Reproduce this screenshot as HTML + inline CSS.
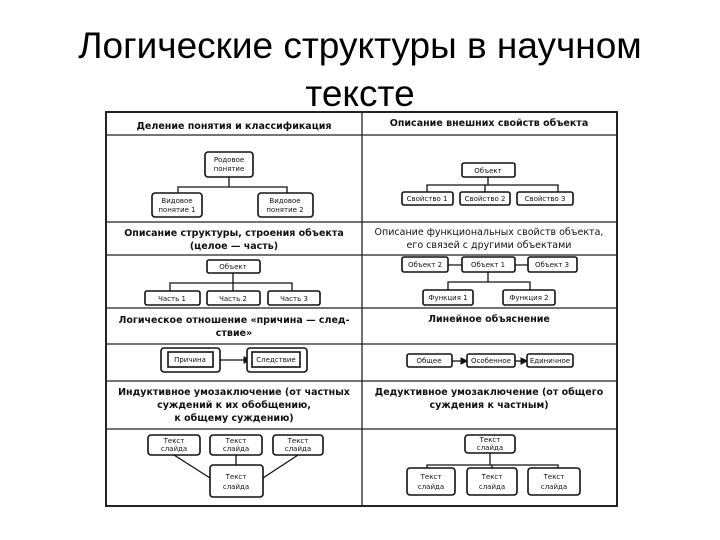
<!DOCTYPE html>
<html><head><meta charset="utf-8"><style>
body{margin:0;background:#fff;width:720px;height:540px;overflow:hidden}
.t{position:absolute;left:0;width:720px;text-align:center;font-family:"Liberation Sans","DejaVu Sans",sans-serif;font-size:37px;color:#000}
svg{position:absolute;left:0;top:0}
svg text{font-family:"DejaVu Sans","Liberation Sans",sans-serif;fill:#111}
.h{font-size:9.5px;font-weight:bold}
.n{font-size:7px}
.b{fill:#fff;stroke:#111;stroke-width:1.6}
.l{stroke:#111;stroke-width:1.3;fill:none}
</style></head><body>
<div class="t" style="top:22px;line-height:48px">Логические структуры в научном<br>тексте</div>
<svg width="720" height="540" viewBox="0 0 720 540">
<defs><marker id="a" markerWidth="6" markerHeight="6" refX="5" refY="3" orient="auto"><path d="M0,0L6,3L0,6z" fill="#111"/></marker></defs>
<rect x="106" y="112" width="511" height="394" fill="none" stroke="#222" stroke-width="2"/>
<g stroke="#222" stroke-width="1.3">
<line x1="362" y1="112" x2="362" y2="506"/>
<line x1="106" y1="135" x2="617" y2="135"/>
<line x1="106" y1="222" x2="617" y2="222"/>
<line x1="106" y1="255" x2="617" y2="255"/>
<line x1="106" y1="308" x2="617" y2="308"/>
<line x1="106" y1="344" x2="617" y2="344"/>
<line x1="106" y1="381" x2="617" y2="381"/>
<line x1="106" y1="429" x2="617" y2="429"/>
</g>
<g text-anchor="middle">
<text class="h" x="234" y="129">Деление понятия и классификация</text>
<text class="h" x="489" y="126">Описание внешних свойств объекта</text>
<text class="h" x="234" y="236">Описание структуры, строения объекта</text>
<text class="h" x="234" y="249">(целое — часть)</text>
<text x="489" y="235" style="font-size:9.5px">Описание функциональных свойств объекта,</text>
<text x="489" y="248" style="font-size:9.5px">его связей с другими объектами</text>
<text class="h" x="234" y="323">Логическое отношение «причина — след-</text>
<text class="h" x="234" y="336">ствие»</text>
<text class="h" x="489" y="322">Линейное объяснение</text>
<text class="h" x="234" y="395">Индуктивное умозаключение (от частных</text>
<text class="h" x="234" y="408">суждений к их обобщению,</text>
<text class="h" x="234" y="421">к общему суждению)</text>
<text class="h" x="489" y="395">Дедуктивное умозаключение (от общего</text>
<text class="h" x="489" y="408">суждения к частным)</text>
</g>
<path class="l" d="M229,177V187M178,193V187H287V193"/>
<path class="l" d="M488,177V185M427,192V185H558V192M485,185V192"/>
<path class="l" d="M233,273V283M170,291V283H292V291M233,283V291"/>
<path class="l" d="M448,265H462M515,265H528M488,272V282M448,290V282H530V290"/>
<line class="l" x1="213" y1="360" x2="250" y2="360" marker-end="url(#a)"/>
<line class="l" x1="452" y1="361" x2="467" y2="361" marker-end="url(#a)"/>
<line class="l" x1="515" y1="361" x2="527" y2="361" marker-end="url(#a)"/>
<path class="l" d="M174,455L210,478M236,455V465M298,455L263,478"/>
<path class="l" d="M490,453V465M427,468V465H558V468M492,465V468"/>
<g>
<rect class="b" x="205" y="152" width="48" height="25" rx="3"/>
<rect class="b" x="152" y="193" width="50" height="24" rx="3"/>
<rect class="b" x="258" y="193" width="55" height="24" rx="3"/>
<rect class="b" x="462" y="163" width="53" height="14" rx="2"/>
<rect class="b" x="402" y="192" width="51" height="13" rx="2"/>
<rect class="b" x="460" y="192" width="50" height="13" rx="2"/>
<rect class="b" x="517" y="192" width="56" height="13" rx="2"/>
<rect class="b" x="207" y="260" width="53" height="13" rx="2"/>
<rect class="b" x="145" y="291" width="55" height="14" rx="2"/>
<rect class="b" x="207" y="291" width="53" height="14" rx="2"/>
<rect class="b" x="268" y="291" width="52" height="14" rx="2"/>
<rect class="b" x="402" y="257" width="46" height="15" rx="2"/>
<rect class="b" x="462" y="257" width="53" height="15" rx="2"/>
<rect class="b" x="528" y="257" width="49" height="15" rx="2"/>
<rect class="b" x="423" y="290" width="50" height="15" rx="2"/>
<rect class="b" x="503" y="290" width="52" height="15" rx="2"/>
<rect class="b" x="161" y="348" width="59" height="24" rx="3"/>
<rect class="b" x="168" y="352" width="45" height="15" stroke-width="1.2"/>
<rect class="b" x="247" y="348" width="60" height="24" rx="3"/>
<rect class="b" x="252" y="352" width="48" height="15" stroke-width="1.2"/>
<rect class="b" x="407" y="354" width="45" height="13" rx="2" stroke-width="1"/>
<rect class="b" x="467" y="354" width="48" height="13" rx="2" stroke-width="1"/>
<rect class="b" x="527" y="354" width="46" height="13" rx="2" stroke-width="1"/>
<rect class="b" x="148" y="435" width="52" height="20" rx="3"/>
<rect class="b" x="210" y="435" width="52" height="20" rx="3"/>
<rect class="b" x="273" y="435" width="50" height="20" rx="3"/>
<rect class="b" x="210" y="465" width="53" height="32" rx="3"/>
<rect class="b" x="465" y="435" width="50" height="18" rx="3"/>
<rect class="b" x="407" y="468" width="48" height="27" rx="3"/>
<rect class="b" x="467" y="468" width="50" height="27" rx="3"/>
<rect class="b" x="528" y="468" width="52" height="27" rx="3"/>
</g>
<g text-anchor="middle" class="n">
<text x="229" y="162">Родовое</text><text x="229" y="171">понятие</text>
<text x="177" y="203">Видовое</text><text x="177" y="212">понятие 1</text>
<text x="285" y="203">Видовое</text><text x="285" y="212">понятие 2</text>
<text x="488" y="173">Объект</text>
<text x="427" y="201">Свойство 1</text><text x="485" y="201">Свойство 2</text><text x="545" y="201">Свойство 3</text>
<text x="233" y="269">Объект</text>
<text x="172" y="301">Часть 1</text><text x="233" y="301">Часть 2</text><text x="294" y="301">Часть 3</text>
<text x="425" y="267">Объект 2</text><text x="488" y="267">Объект 1</text><text x="552" y="267">Объект 3</text>
<text x="448" y="300">Функция 1</text><text x="529" y="300">Функция 2</text>
<text x="190" y="362">Причина</text><text x="276" y="362">Следствие</text>
<text x="429" y="363">Общее</text><text x="491" y="363">Особенное</text><text x="550" y="363">Единичное</text>
<text x="174" y="443">Текст</text><text x="174" y="451">слайда</text>
<text x="236" y="443">Текст</text><text x="236" y="451">слайда</text>
<text x="298" y="443">Текст</text><text x="298" y="451">слайда</text>
<text x="236" y="479">Текст</text><text x="236" y="489">слайда</text>
<text x="490" y="442">Текст</text><text x="490" y="450">слайда</text>
<text x="431" y="479">Текст</text><text x="431" y="489">слайда</text>
<text x="492" y="479">Текст</text><text x="492" y="489">слайда</text>
<text x="554" y="479">Текст</text><text x="554" y="489">слайда</text>
</g>
</svg>
</body></html>
